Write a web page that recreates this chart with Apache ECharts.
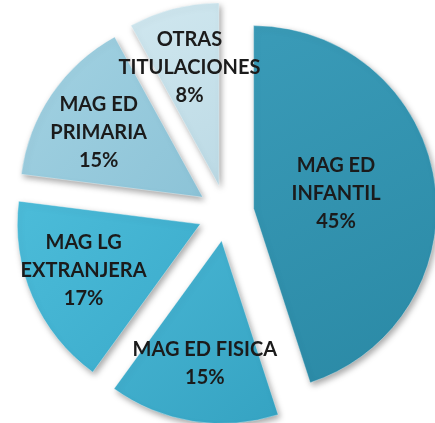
<!DOCTYPE html>
<html>
<head>
<meta charset="utf-8">
<script src="https://cdn.jsdelivr.net/npm/echarts@6/dist/echarts.min.js"></script>
<style>html,body{margin:0;padding:0;background:#fff;}#c{width:435px;height:423px;}</style>
</head>
<body>
<div id="c"></div>
<script>
const categories = ['MAG ED\nINFANTIL', 'MAG ED FISICA', 'MAG LG\nEXTRANJERA', 'MAG ED\nPRIMARIA', 'OTRAS\nTITULACIONES'];
const values = [45, 15, 17, 15, 8];
const colors = ['#2a89a5', '#35a3c2', '#3aaaca', '#8cc3d7', '#bcdae5'];
const lightColors = ['#3a9bb8', '#49b6d4', '#4cbcd9', '#a3d2e2', '#d0e7ef'];
const labelShift = [[-11, 0], [-2, 30], [-30, 9], [-26, -12], [-6, -27]];

const chart = echarts.init(document.getElementById('c'), null, {renderer: 'canvas'});
const data = categories.map((name, i) => ({
  name: name,
  value: values[i],
  selected: true,
  itemStyle: {
    color: new echarts.graphic.LinearGradient(0, 0, 1, 1, [
      {offset: 0, color: lightColors[i]},
      {offset: 1, color: colors[i]}
    ])
  }
}));

chart.setOption({
  animation: false,
  series: [{
    type: 'pie',
    center: [226, 213],
    radius: [0, 183],
    startAngle: 90,
    clockwise: true,
    selectedMode: 'multiple',
    selectedOffset: 28,
    avoidLabelOverlap: false,
    labelLayout: p => ({hideOverlap: false, dx: labelShift[p.dataIndex][0], dy: labelShift[p.dataIndex][1]}),
    data: data,
    itemStyle: {
      borderColor: 'rgba(255,255,255,0.35)',
      borderWidth: 1,
      shadowColor: 'rgba(0,0,0,0.35)',
      shadowBlur: 6,
      shadowOffsetX: 2,
      shadowOffsetY: 3
    },
    label: {
      show: true,
      position: 'inside',
      formatter: p => p.name + '\n' + p.value + '%',
      color: '#1b1b1b',
      fontFamily: 'Lato',
      fontWeight: 'bold',
      fontSize: 20,
      lineHeight: 28,
      align: 'center'
    },
    labelLine: {show: false},
    emphasis: {disabled: true},
    select: {itemStyle: {}}
  }]
});
</script>
</body>
</html>
